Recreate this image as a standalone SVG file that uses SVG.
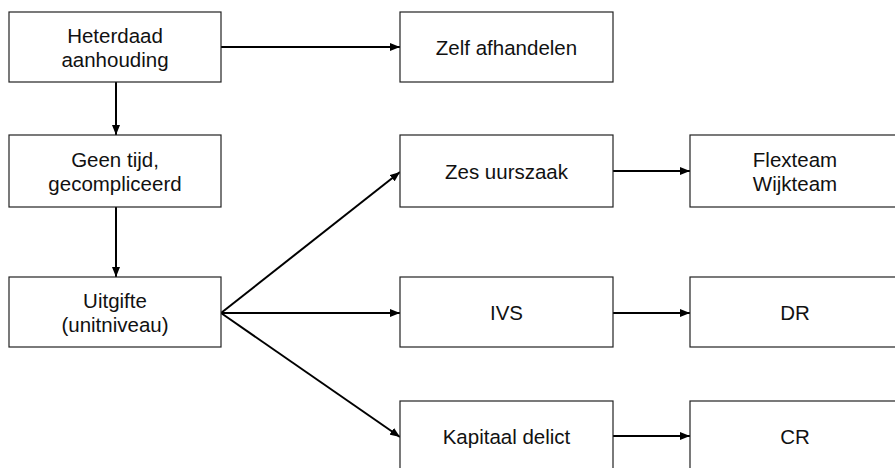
<svg xmlns="http://www.w3.org/2000/svg" width="895" height="468" viewBox="0 0 895 468">
<style>
.box{fill:#fff;stroke:#222;stroke-width:1.2}
.t{font-family:"Liberation Sans",Arial,sans-serif;font-size:20.5px;fill:#111;text-anchor:middle}
.c{fill:none;stroke:#000;stroke-width:2}
</style>
<defs>
<marker id="ah" viewBox="0 0 10 8" refX="10" refY="4" markerWidth="10" markerHeight="8" markerUnits="userSpaceOnUse" orient="auto">
<path d="M0,0 L10,4 L0,8 z" fill="#000"/>
</marker>
</defs>
<rect width="895" height="468" fill="#fff"/>
<g id="connectors">
<line class="c" x1="221" y1="47" x2="400" y2="47" marker-end="url(#ah)"/>
<line class="c" x1="116" y1="82" x2="116" y2="135" marker-end="url(#ah)"/>
<line class="c" x1="116" y1="207" x2="116" y2="277" marker-end="url(#ah)"/>
<line class="c" x1="221" y1="313" x2="400" y2="172" marker-end="url(#ah)"/>
<line class="c" x1="221" y1="313" x2="400" y2="313" marker-end="url(#ah)"/>
<line class="c" x1="221" y1="313" x2="400" y2="437" marker-end="url(#ah)"/>
<line class="c" x1="613" y1="171" x2="690" y2="171" marker-end="url(#ah)"/>
<line class="c" x1="613" y1="313" x2="690" y2="313" marker-end="url(#ah)"/>
<line class="c" x1="613" y1="436" x2="690" y2="436" marker-end="url(#ah)"/>
</g>
<g id="heterdaad"><rect class="box" x="9" y="12" width="212" height="70"/><text class="t" x="115" y="42.5">Heterdaad</text><text class="t" x="115" y="66.5">aanhouding</text></g>
<g id="geentijd"><rect class="box" x="9" y="135" width="212" height="72"/><text class="t" x="115" y="166.5">Geen tijd,</text><text class="t" x="115" y="190.5">gecompliceerd</text></g>
<g id="uitgifte"><rect class="box" x="9" y="277" width="212" height="70"/><text class="t" x="115" y="308">Uitgifte</text><text class="t" x="115" y="332">(unitniveau)</text></g>
<g id="zelf"><rect class="box" x="400" y="12" width="213" height="70"/><text class="t" x="506.5" y="55">Zelf afhandelen</text></g>
<g id="zes"><rect class="box" x="400" y="135" width="213" height="72"/><text class="t" x="506.5" y="179">Zes uurszaak</text></g>
<g id="ivs"><rect class="box" x="400" y="277" width="213" height="70"/><text class="t" x="506.5" y="320">IVS</text></g>
<g id="kapitaal"><rect class="box" x="400" y="401" width="213" height="72"/><text class="t" x="506.5" y="444">Kapitaal delict</text></g>
<g id="flexteam"><rect class="box" x="690" y="135" width="212" height="72"/><text class="t" x="795" y="166.5">Flexteam</text><text class="t" x="795" y="190.5">Wijkteam</text></g>
<g id="dr"><rect class="box" x="690" y="277" width="212" height="70"/><text class="t" x="795" y="320">DR</text></g>
<g id="cr"><rect class="box" x="690" y="401" width="212" height="72"/><text class="t" x="795" y="444">CR</text></g>
</svg>
